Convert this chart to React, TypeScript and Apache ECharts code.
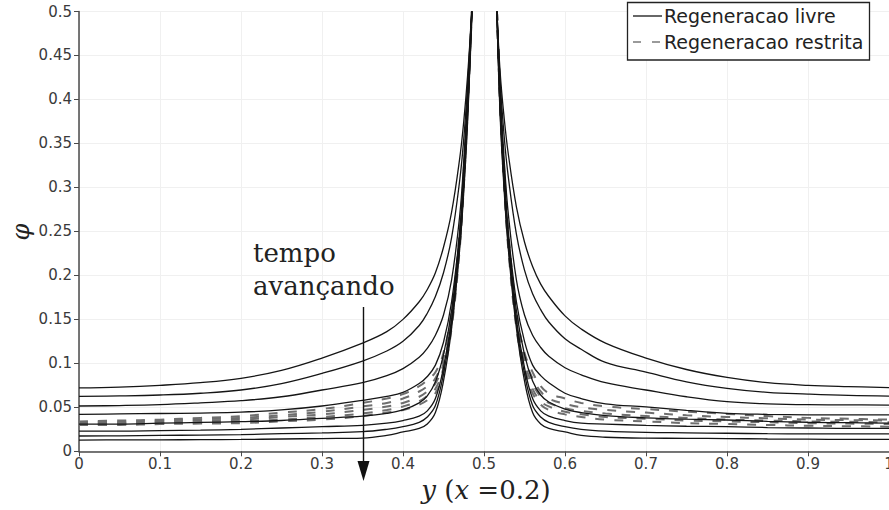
import React, { useEffect, useRef } from "react";
import * as echarts from "echarts";

// x positions of read points (left branch, right branch)
const xLeft = [0, 0.05, 0.1, 0.15, 0.2, 0.25, 0.3, 0.35, 0.38, 0.4, 0.42, 0.43, 0.44, 0.45, 0.46, 0.47, 0.475, 0.48, 0.485];
const xRight = [0.516, 0.52, 0.525, 0.53, 0.54, 0.55, 0.56, 0.57, 0.58, 0.6, 0.62, 0.65, 0.7, 0.75, 0.8, 0.85, 0.9, 0.95, 1.0];

// "Regeneracao livre" (solid) curves, top to bottom
const livre1L = [0.072, 0.073, 0.075, 0.078, 0.083, 0.092, 0.106, 0.123, 0.136, 0.15, 0.17, 0.184, 0.203, 0.232, 0.272, 0.333, 0.375, 0.43, 0.5];
const livre2L = [0.0625, 0.063, 0.064, 0.066, 0.0697, 0.077, 0.0886, 0.1026, 0.114, 0.125, 0.143, 0.157, 0.176, 0.203, 0.243, 0.308, 0.355, 0.42, 0.5];
const livre3L = [0.0515, 0.052, 0.053, 0.055, 0.0575, 0.062, 0.0697, 0.078, 0.086, 0.094, 0.107, 0.117, 0.132, 0.155, 0.195, 0.268, 0.33, 0.41, 0.5];
const livre4L = [0.042, 0.0425, 0.043, 0.0435, 0.0445, 0.047, 0.0515, 0.058, 0.0625, 0.067, 0.077, 0.085, 0.098, 0.124, 0.17, 0.25, 0.32, 0.4, 0.5];
const livre5L = [0.031, 0.031, 0.032, 0.0328, 0.0337, 0.035, 0.0375, 0.04, 0.043, 0.047, 0.055, 0.063, 0.079, 0.11, 0.16, 0.245, 0.31, 0.395, 0.5];
const livre6L = [0.023, 0.023, 0.0235, 0.024, 0.025, 0.0265, 0.028, 0.0295, 0.032, 0.035, 0.04, 0.046, 0.06, 0.095, 0.15, 0.24, 0.305, 0.39, 0.5];
const livre7L = [0.0174, 0.0175, 0.018, 0.0185, 0.019, 0.02, 0.021, 0.0223, 0.025, 0.028, 0.033, 0.039, 0.052, 0.088, 0.145, 0.235, 0.3, 0.385, 0.5];
const livre8L = [0.0128, 0.013, 0.013, 0.0133, 0.0135, 0.014, 0.0145, 0.015, 0.018, 0.022, 0.026, 0.031, 0.044, 0.08, 0.14, 0.23, 0.295, 0.38, 0.5];

const livre1R = [0.5, 0.43, 0.378, 0.338, 0.278, 0.238, 0.21, 0.19, 0.176, 0.154, 0.139, 0.123, 0.106, 0.093, 0.084, 0.078, 0.075, 0.0735, 0.0725];
const livre2R = [0.5, 0.42, 0.357, 0.312, 0.247, 0.206, 0.179, 0.161, 0.147, 0.128, 0.116, 0.101, 0.09, 0.079, 0.0716, 0.067, 0.065, 0.0635, 0.0628];
const livre3R = [0.5, 0.41, 0.33, 0.27, 0.195, 0.155, 0.132, 0.118, 0.108, 0.095, 0.087, 0.078, 0.0697, 0.062, 0.0564, 0.054, 0.053, 0.0528, 0.0526];
const livre4R = [0.5, 0.4, 0.32, 0.25, 0.17, 0.125, 0.098, 0.086, 0.078, 0.066, 0.06, 0.054, 0.0505, 0.0465, 0.0432, 0.042, 0.0415, 0.0413, 0.0413];
const livre5R = [0.5, 0.395, 0.31, 0.245, 0.16, 0.11, 0.08, 0.064, 0.056, 0.048, 0.044, 0.0405, 0.038, 0.0365, 0.0356, 0.034, 0.033, 0.0325, 0.032];
const livre6R = [0.5, 0.39, 0.305, 0.24, 0.15, 0.095, 0.06, 0.046, 0.04, 0.035, 0.032, 0.031, 0.0295, 0.0285, 0.028, 0.027, 0.0265, 0.026, 0.026];
const livre7R = [0.5, 0.385, 0.3, 0.235, 0.145, 0.088, 0.052, 0.039, 0.033, 0.028, 0.025, 0.023, 0.0215, 0.021, 0.0205, 0.02, 0.0198, 0.0197, 0.0197];
const livre8R = [0.5, 0.38, 0.295, 0.23, 0.14, 0.08, 0.044, 0.031, 0.026, 0.022, 0.018, 0.016, 0.015, 0.0148, 0.0145, 0.014, 0.0138, 0.0136, 0.0136];

// "Regeneracao restrita" (dashed) curves
const restrita1L = [0.03, 0.03, 0.031, 0.0315, 0.032, 0.034, 0.036, 0.04, 0.044, 0.047, 0.053, 0.058, 0.066, 0.09, 0.14, 0.23, 0.3, 0.39, 0.5];
const restrita2L = [0.031, 0.031, 0.032, 0.033, 0.034, 0.036, 0.039, 0.043, 0.047, 0.051, 0.057, 0.063, 0.071, 0.095, 0.145, 0.235, 0.305, 0.395, 0.5];
const restrita3L = [0.032, 0.032, 0.0335, 0.035, 0.036, 0.039, 0.042, 0.047, 0.051, 0.055, 0.062, 0.068, 0.077, 0.1, 0.15, 0.24, 0.31, 0.4, 0.5];
const restrita4L = [0.033, 0.0335, 0.035, 0.0365, 0.038, 0.041, 0.045, 0.051, 0.055, 0.06, 0.068, 0.074, 0.083, 0.106, 0.155, 0.245, 0.315, 0.405, 0.5];
const restrita5L = [0.034, 0.035, 0.036, 0.038, 0.04, 0.044, 0.048, 0.055, 0.06, 0.065, 0.074, 0.081, 0.09, 0.112, 0.16, 0.25, 0.32, 0.41, 0.5];

const restrita1R = [0.5, 0.39, 0.3, 0.23, 0.14, 0.09, 0.066, 0.053, 0.047, 0.042, 0.039, 0.036, 0.034, 0.032, 0.031, 0.03, 0.029, 0.0285, 0.028];
const restrita2R = [0.5, 0.395, 0.305, 0.235, 0.145, 0.095, 0.071, 0.057, 0.051, 0.045, 0.042, 0.039, 0.037, 0.035, 0.034, 0.033, 0.032, 0.0315, 0.031];
const restrita3R = [0.5, 0.4, 0.31, 0.24, 0.15, 0.1, 0.077, 0.062, 0.055, 0.049, 0.046, 0.043, 0.04, 0.038, 0.036, 0.035, 0.034, 0.0335, 0.033];
const restrita4R = [0.5, 0.405, 0.315, 0.245, 0.155, 0.106, 0.083, 0.068, 0.06, 0.054, 0.05, 0.047, 0.044, 0.041, 0.039, 0.0375, 0.036, 0.0355, 0.035];
const restrita5R = [0.5, 0.41, 0.32, 0.25, 0.16, 0.112, 0.09, 0.074, 0.066, 0.06, 0.055, 0.051, 0.048, 0.045, 0.0425, 0.04, 0.038, 0.037, 0.036];

const livreCurves = [
  [livre1L, livre1R], [livre2L, livre2R], [livre3L, livre3R], [livre4L, livre4R],
  [livre5L, livre5R], [livre6L, livre6R], [livre7L, livre7R], [livre8L, livre8R],
];
const restritaCurves = [
  [restrita1L, restrita1R], [restrita2L, restrita2R], [restrita3L, restrita3R],
  [restrita4L, restrita4R], [restrita5L, restrita5R],
];

const legendNames = ["Regeneracao livre", "Regeneracao restrita"];
const xTicks = { min: 0, max: 1, interval: 0.1 };
const yTicks = { min: 0, max: 0.5, interval: 0.05 };

const pairs = (xs: number[], ys: number[]) => xs.map((x, i) => [x, ys[i]]);

export default function App() {
  const ref = useRef<HTMLDivElement>(null);
  useEffect(() => {
    if (!ref.current) return;
    const chart = echarts.init(ref.current, null, { renderer: "svg" });
    const series: any[] = [];
    restritaCurves.forEach(([l, r]) => {
      [pairs(xLeft, l), pairs(xRight, r)].forEach((d) =>
        series.push({
          type: "line",
          name: legendNames[1],
          data: d,
          showSymbol: false,
          symbol: "none",
          smooth: 0.4,
          z: 2,
          lineStyle: { color: "#6e6e6e", width: 2, type: [9, 10] },
        })
      );
    });
    livreCurves.forEach(([l, r]) => {
      [pairs(xLeft, l), pairs(xRight, r)].forEach((d) =>
        series.push({
          type: "line",
          name: legendNames[0],
          data: d,
          showSymbol: false,
          symbol: "none",
          smooth: 0.4,
          z: 3,
          lineStyle: { color: "#151515", width: 1.3 },
        })
      );
    });
    const labelFont = { fontFamily: "DejaVu Sans", fontSize: 15, color: "#3a3a3a" };
    chart.setOption({
      animation: false,
      backgroundColor: "#ffffff",
      grid: { left: 79, right: 0, top: 11.5, bottom: 58.7, containLabel: false, outerBoundsMode: "none" },
      xAxis: {
        type: "value",
        ...xTicks,
        axisLine: { show: true, lineStyle: { color: "#4a4a4a", width: 1.5 } },
        axisTick: { show: true, length: 5, lineStyle: { color: "#4a4a4a" } },
        axisLabel: { ...labelFont, margin: 5 },
        splitLine: { show: true, lineStyle: { color: "#f0f0f0", width: 1 } },
      },
      yAxis: {
        type: "value",
        ...yTicks,
        axisLine: { show: true, lineStyle: { color: "#4a4a4a", width: 1.5 } },
        axisTick: { show: true, length: 5, lineStyle: { color: "#4a4a4a" } },
        axisLabel: { ...labelFont, margin: 7 },
        splitLine: { show: true, lineStyle: { color: "#f0f0f0", width: 1 } },
      },
      series,
      graphic: [
        {
          type: "rect",
          shape: { x: 627.5, y: 2.5, width: 242, height: 57.5 },
          style: { fill: "#ffffff", stroke: "#222", lineWidth: 1.3 },
          z: 100,
        },
        {
          type: "line",
          shape: { x1: 633, y1: 16, x2: 662, y2: 16 },
          style: { stroke: "#151515", lineWidth: 1.3 },
          z: 101,
        },
        {
          type: "line",
          shape: { x1: 633, y1: 42, x2: 662, y2: 42 },
          style: { stroke: "#7a7a7a", lineWidth: 1.3, lineDash: [8, 11] },
          z: 101,
        },
        {
          type: "text",
          x: 664,
          y: 16,
          style: { text: legendNames[0], font: "19px 'DejaVu Sans'", fill: "#222", verticalAlign: "middle", align: "left" },
          z: 101,
        },
        {
          type: "text",
          x: 664,
          y: 42,
          style: { text: legendNames[1], font: "19px 'DejaVu Sans'", fill: "#222", verticalAlign: "middle", align: "left" },
          z: 101,
        },
        {
          type: "text",
          x: 21,
          y: 232,
          rotation: Math.PI / 2,
          style: { text: "φ", font: "italic 24px 'DejaVu Serif'", fill: "#222", align: "center", verticalAlign: "middle" },
          z: 101,
        },
        {
          type: "text",
          x: 253,
          y: 253,
          style: { text: "tempo", font: "26px 'DejaVu Serif'", fill: "#222", align: "left", verticalAlign: "middle" },
          z: 101,
        },
        {
          type: "text",
          x: 253,
          y: 286,
          style: { text: "avançando", font: "26px 'DejaVu Serif'", fill: "#222", align: "left", verticalAlign: "middle" },
          z: 101,
        },
        {
          type: "line",
          shape: { x1: 363.5, y1: 307, x2: 363.5, y2: 465 },
          style: { stroke: "#111", lineWidth: 1.4 },
          z: 101,
        },
        {
          type: "polygon",
          shape: { points: [[357.5, 461], [369.5, 461], [363.5, 481]] },
          style: { fill: "#111" },
          z: 101,
        },
        {
          type: "text",
          x: 486,
          y: 490,
          style: {
            text: "{i|y} ({i|x} =0.2)",
            font: "26px 'DejaVu Serif'",
            fill: "#222",
            align: "center",
            verticalAlign: "middle",
            rich: { i: { fontStyle: "italic", fontFamily: "DejaVu Serif", fontSize: 26, fill: "#222" } },
          },
          z: 101,
        },
      ],
    });
    return () => chart.dispose();
  }, []);
  return <div ref={ref} style={{ position: "fixed", left: 0, top: 0, width: 889, height: 510 }} />;
}
